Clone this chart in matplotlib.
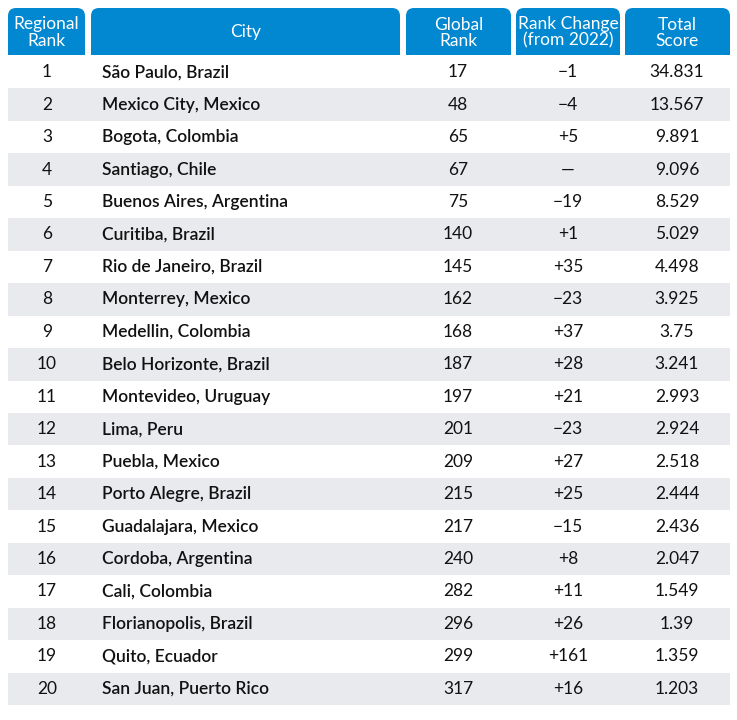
import matplotlib
matplotlib.use("Agg")
import matplotlib.pyplot as plt
from matplotlib.patches import FancyBboxPatch, Rectangle

headers = ["Regional\nRank", "City", "Global\nRank", "Rank Change\n(from 2022)", "Total\nScore"]
regional_rank = list(range(1, 21))
cities = ["São Paulo, Brazil", "Mexico City, Mexico", "Bogota, Colombia", "Santiago, Chile",
          "Buenos Aires, Argentina", "Curitiba, Brazil", "Rio de Janeiro, Brazil",
          "Monterrey, Mexico", "Medellin, Colombia", "Belo Horizonte, Brazil",
          "Montevideo, Uruguay", "Lima, Peru", "Puebla, Mexico", "Porto Alegre, Brazil",
          "Guadalajara, Mexico", "Cordoba, Argentina", "Cali, Colombia",
          "Florianopolis, Brazil", "Quito, Ecuador", "San Juan, Puerto Rico"]
global_rank = [17, 48, 65, 67, 75, 140, 145, 162, 168, 187, 197, 201, 209, 215, 217,
               240, 282, 296, 299, 317]
rank_change = ["\u22121", "\u22124", "+5", "\u2014", "\u221219", "+1", "+35", "\u221223", "+37",
               "+28", "+21", "\u221223", "+27", "+25", "\u221215", "+8", "+11", "+26",
               "+161", "+16"]
total_score = ["34.831", "13.567", "9.891", "9.096", "8.529", "5.029", "4.498", "3.925",
               "3.75", "3.241", "2.993", "2.924", "2.518", "2.444", "2.436", "2.047",
               "1.549", "1.39", "1.359", "1.203"]

W, H = 737, 720
fig = plt.figure(figsize=(W / 100, H / 100), dpi=100)
ax = fig.add_axes([0, 0, 1, 1])
ax.set_xlim(0, W)
ax.set_ylim(H, 0)
ax.axis("off")

blue = "#0288d1"
band = "#e8eaee"
font = "Lato"
cols = [(8, 85), (91, 400), (406, 511), (516, 620), (625, 730)]
head_top, head_bot = 8, 55
row_top, row_h = 56, 32.45

for (x0, x1), h in zip(cols, headers):
    # rounded top corners only: rounded box on top, square rectangle covering the bottom
    ax.add_patch(FancyBboxPatch((x0 + 8, head_top + 8), x1 - x0 - 16, head_bot - head_top - 16,
                                boxstyle="round,pad=8", fc=blue, ec="none"))
    ax.add_patch(Rectangle((x0, head_top + 20), x1 - x0, head_bot - head_top - 20, fc=blue, ec="none"))
    ax.text((x0 + x1) / 2, (head_top + head_bot) / 2 + 1, h, color="white", ha="center", va="center",
            fontsize=12.5, family=font, linespacing=1.0)

for i in range(20):
    y0 = row_top + i * row_h
    yc = y0 + row_h / 2
    if i % 2 == 1:
        ax.add_patch(Rectangle((8, y0), 722, row_h, fc=band, ec="none"))
    kw = dict(va="center", fontsize=12.5, family=font, color="#111111")
    ax.text(47, yc, str(regional_rank[i]), ha="center", **kw)
    ax.text(102, yc, cities[i], ha="left", fontweight="semibold", **kw)
    ax.text(458, yc, str(global_rank[i]), ha="center", **kw)
    ax.text(568, yc, rank_change[i], ha="center", **kw)
    ax.text(677, yc, total_score[i], ha="center", **kw)

fig.savefig("out.png", dpi=100)
